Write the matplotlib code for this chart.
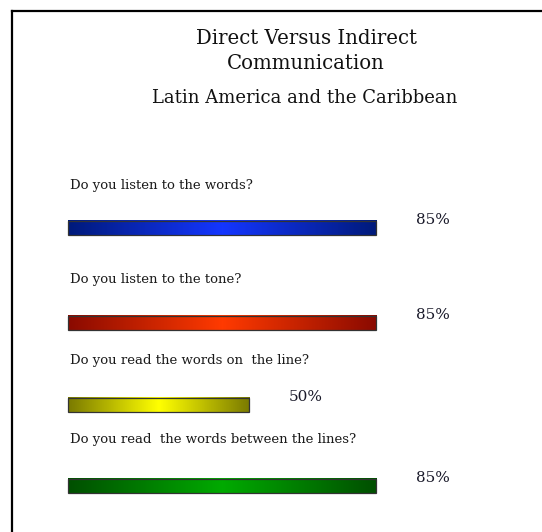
import matplotlib
matplotlib.use('Agg')
from matplotlib import pyplot as plt
from matplotlib.colors import LinearSegmentedColormap
from matplotlib.lines import Line2D
from matplotlib.patches import Rectangle
import numpy as np

title_lines = ['Direct Versus Indirect', 'Communication']
subtitle = 'Latin America and the Caribbean'

questions = [
    'Do you listen to the words?',
    'Do you listen to the tone?',
    'Do you read the words on  the line?',
    'Do you read  the words between the lines?',
]
percentages = [85, 85, 50, 85]

# edge colour, centre colour of each bar's gradient
bar_edge_colors = ['#001a7a', '#8a0a00', '#7a7a00', '#004f00']
bar_mid_colors = ['#1436ff', '#ff3a00', '#ffff00', '#00aa00']

W, H = 542, 532
BAR_LEFT_PX = 67.5
PX_PER_PCT = 3.63
ROW_Y = [228, 323, 405, 486]
QUESTION_Y = [188.5, 283.5, 364, 443.5]
BAR_H = 14.5

SERIF = ['DejaVu Serif']

fig = plt.figure(figsize=(W / 100, H / 100), dpi=100)
fig.patch.set_facecolor('white')

ax = fig.add_axes([0, 0, 1, 1])
ax.axis('off')

gradient = 1 - np.abs(np.linspace(-1, 1, 256))[None, :]

for i, (q, pct) in enumerate(zip(questions, percentages)):
    y = ROW_Y[i]
    cmap = LinearSegmentedColormap.from_list(f'bar{i}', [bar_edge_colors[i], bar_mid_colors[i]])
    ax.imshow(gradient, cmap=cmap, aspect='auto', interpolation='bilinear',
              extent=[0, pct, y + BAR_H / 2, y - BAR_H / 2], zorder=2)
    ax.add_patch(Rectangle((0, y - BAR_H / 2), pct, BAR_H, fill=False,
                           edgecolor='#333333', linewidth=0.9, zorder=3))

    ax.text(2.5 / PX_PER_PCT, QUESTION_Y[i], q, family=SERIF, fontsize=9.5,
            ha='left', va='baseline', color='#1a1a1a')
    ax.text(pct + 40 / PX_PER_PCT, y - 4, f'{pct}%', family=SERIF, fontsize=11,
            ha='left', va='baseline', color='#1a1a2a')

# pixel-based limits, set after imshow
ax.set_xlim(-BAR_LEFT_PX / PX_PER_PCT, (W - BAR_LEFT_PX) / PX_PER_PCT)
ax.set_ylim(H, 0)

fig.text(306 / W, 1 - 44 / H, title_lines[0], family=SERIF, fontsize=14.2,
         ha='center', va='baseline', color='#111111')
fig.text(306 / W, 1 - 69 / H, title_lines[1], family=SERIF, fontsize=14.2,
         ha='center', va='baseline', color='#111111')
fig.text(305 / W, 1 - 103 / H, subtitle, family=SERIF, fontsize=13.0,
         ha='center', va='baseline', color='#111111')

# frame on the top and left edges
fig.add_artist(Line2D([12 / W, 1], [1 - 11 / H, 1 - 11 / H], transform=fig.transFigure,
                      color='black', linewidth=1.6))
fig.add_artist(Line2D([12 / W, 12 / W], [1 - 11 / H, 0], transform=fig.transFigure,
                      color='black', linewidth=1.6))

fig.savefig('out.png', dpi=100, facecolor='white')
